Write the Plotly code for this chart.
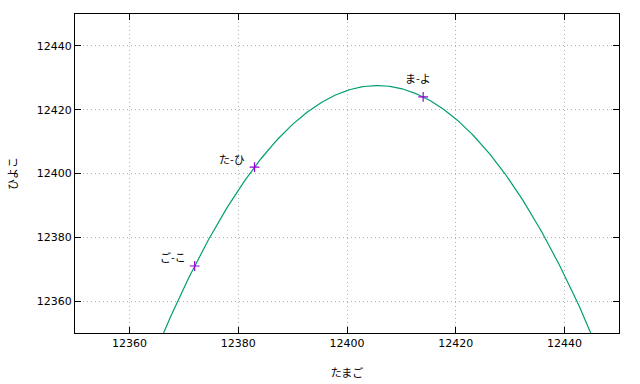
import numpy as np
import plotly.graph_objects as go

# data
point_x = [12372, 12383, 12414]
point_y = [12371, 12402, 12424]
point_labels = ["ご-こ", "た-ひ", "ま-よ"]
x_ticks = [12360, 12380, 12400, 12420, 12440]
y_ticks = [12360, 12380, 12400, 12420, 12440]

# quadratic fit through the points (as in the original fitted curve)
coef = np.polyfit(np.array(point_x, float) - 12400, np.array(point_y, float), 2)
xs = np.linspace(12350, 12450, 400)
ys = np.polyval(coef, xs - 12400)

fig = go.Figure()
fig.add_trace(go.Scatter(x=xs, y=ys, mode="lines",
                         line=dict(color="#009e73", width=1.2),
                         hoverinfo="skip", showlegend=False))
fig.add_trace(go.Scatter(x=point_x, y=point_y, mode="markers",
                         marker=dict(symbol="cross-thin", size=7,
                                     line=dict(color="#9400d3", width=1.2)),
                         showlegend=False))

shifts = [(-22, 9), (-23, 8), (-5, 19)]
for (px, py, lab), (dx, dy) in zip(zip(point_x, point_y, point_labels), shifts):
    fig.add_annotation(x=px, y=py, text=lab, showarrow=False,
                       xshift=dx, yshift=dy,
                       font=dict(family="Noto Sans CJK JP", size=11, color="black"))

axis_common = dict(showline=True, linecolor="black", linewidth=1, mirror="ticks",
                   ticks="inside", ticklen=6, tickcolor="black", tickwidth=1,
                   showgrid=True, gridcolor="#b0b0b0", griddash="1px,3px", gridwidth=1,
                   zeroline=False, tickformat="d", automargin=False,
                   tickfont=dict(family="DejaVu Sans", size=11, color="black"))

fig.update_xaxes(range=[12350, 12450], tickvals=x_ticks,
                 title=dict(text="たまご", standoff=20,
                            font=dict(family="Noto Sans CJK JP", size=11, color="black")),
                 **axis_common)
fig.update_yaxes(range=[12350, 12450], tickvals=y_ticks,
                 title=dict(text="ひよこ", standoff=16,
                            font=dict(family="Noto Sans CJK JP", size=11, color="black")),
                 **axis_common)

fig.update_layout(width=640, height=384,
                  margin=dict(l=75, r=21, t=14, b=51),
                  paper_bgcolor="white", plot_bgcolor="white")

fig.write_html("out.html")
